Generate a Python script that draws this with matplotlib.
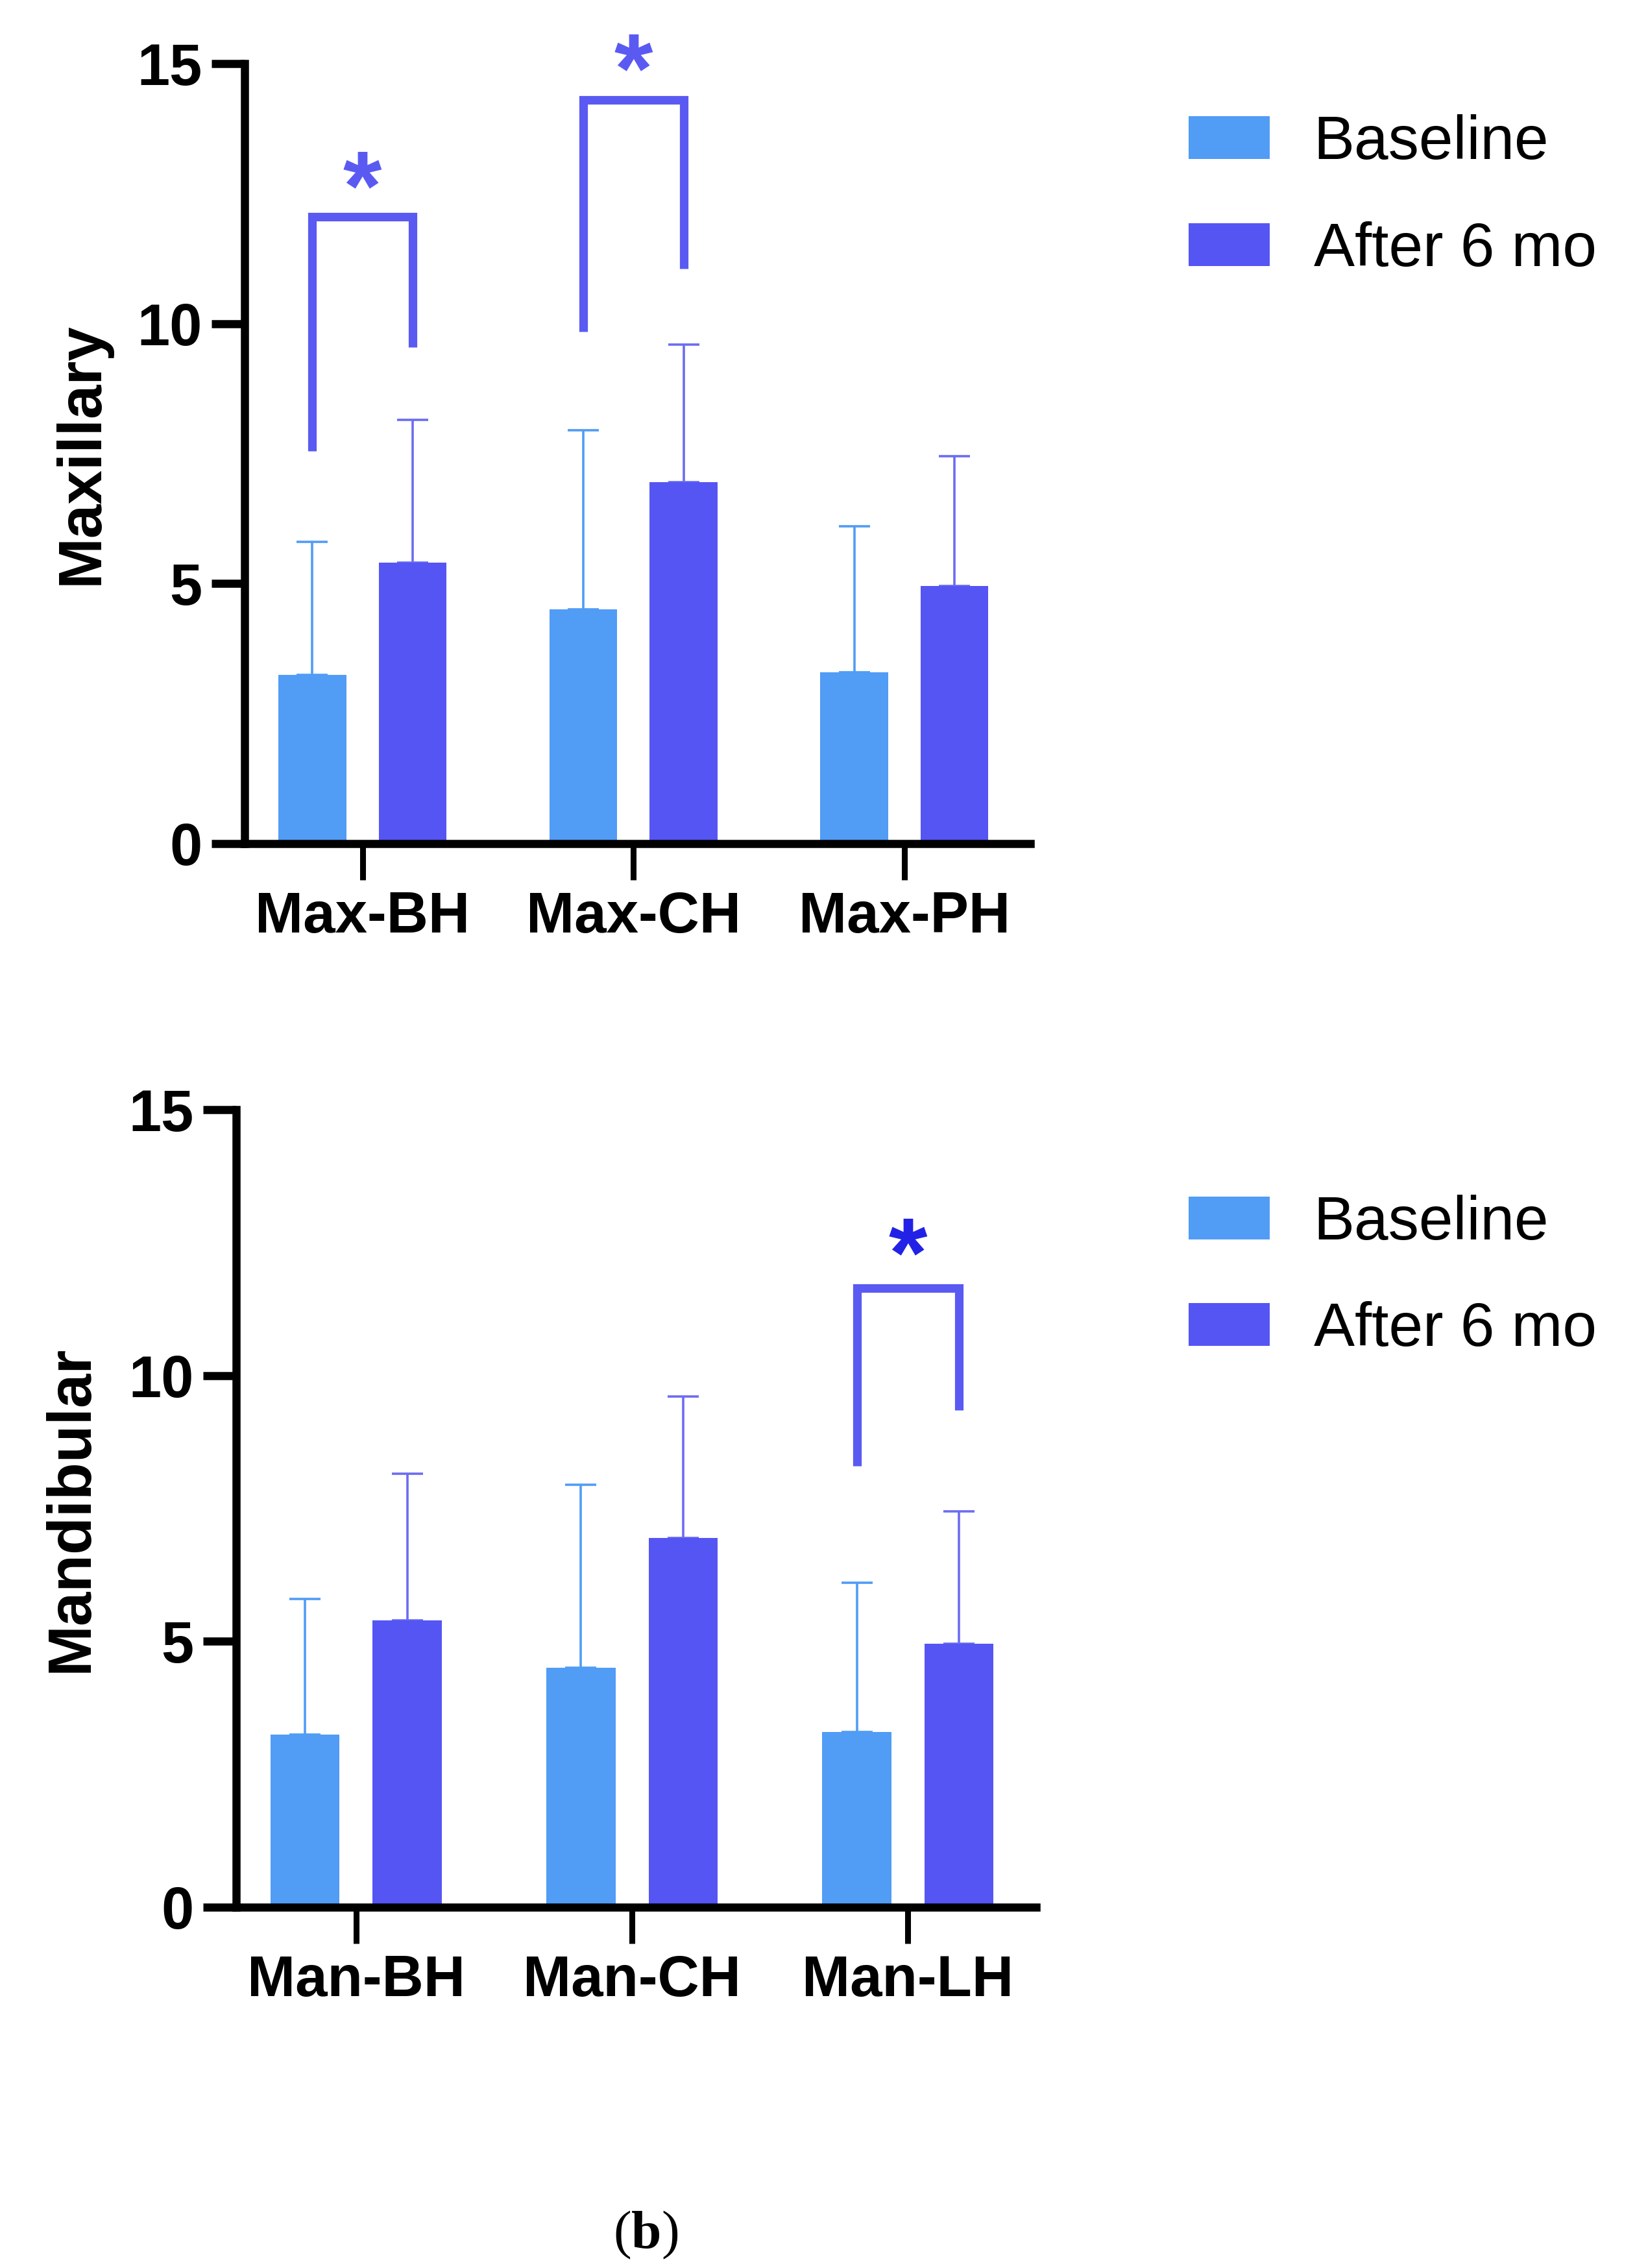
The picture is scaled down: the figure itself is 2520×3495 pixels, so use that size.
import numpy as np
import matplotlib
matplotlib.use('Agg')
import matplotlib.pyplot as plt
from matplotlib.patches import Patch

plt.rcParams['font.family'] = ['Liberation Sans', 'DejaVu Sans']
plt.rcParams['mathtext.fontset'] = 'custom'
plt.rcParams['mathtext.rm'] = 'Liberation Serif'
plt.rcParams['mathtext.bf'] = 'Liberation Serif:bold'

# data (mean and top of the SD whisker)
max_labels = ['Max-BH', 'Max-CH', 'Max-PH']
max_baseline = [3.25, 4.5, 3.3]
max_baseline_top = [5.8, 7.95, 6.1]
max_after = [5.4, 6.95, 4.95]
max_after_top = [8.15, 9.6, 7.45]

man_labels = ['Man-BH', 'Man-CH', 'Man-LH']
man_baseline = [3.25, 4.5, 3.3]
man_baseline_top = [5.8, 7.95, 6.1]
man_after = [5.4, 6.95, 4.95]
man_after_top = [8.15, 9.6, 7.45]

# significance brackets: category, left leg bottom, right leg bottom, bracket top, star
max_brackets = [(0, 7.55, 9.55, 12.05, 12.9), (1, 9.85, 11.05, 14.3, 15.15)]
man_brackets = [(2, 8.3, 9.35, 11.65, 12.55)]

series_names = ['Baseline', 'After 6 mo']
c_base = '#519cf5'
c_after = '#5555f4'
c_bracket = '#5a5af2'

W = 0.25
OFF = 0.185
STAR = 110


def draw_panel(ax, labels, base, base_top, after, after_top, brackets, star_color, ylabel):
    x = np.arange(len(labels))
    base = np.array(base)
    after = np.array(after)
    ax.bar(x - OFF, base, W, color=c_base, zorder=2)
    ax.bar(x + OFF, after, W, color=c_after, zorder=2)
    ax.errorbar(x - OFF, base, yerr=[np.zeros(3), np.array(base_top) - base], fmt='none',
                ecolor=c_base, elinewidth=2.6, capsize=17, capthick=2.6, zorder=1)
    ax.errorbar(x + OFF, after, yerr=[np.zeros(3), np.array(after_top) - after], fmt='none',
                ecolor='#6c6cf2', elinewidth=2.6, capsize=17, capthick=2.6, zorder=1)

    for cat, yl, yr, ytop, ystar in brackets:
        ax.plot([cat - OFF, cat - OFF, cat + OFF, cat + OFF], [yl, ytop, ytop, yr],
                color=c_bracket, lw=9.5, solid_joinstyle='miter', solid_capstyle='butt',
                clip_on=False)
        ax.annotate('*', (cat, ystar), xytext=(0, -0.47 * STAR), textcoords='offset points',
                    ha='center', va='baseline', fontsize=STAR, fontweight='bold',
                    color=star_color, annotation_clip=False)

    ax.set_xlim(-0.435, 2.465)
    ax.set_ylim(0, 15)
    ax.set_yticks([0, 5, 10, 15])
    ax.set_xticks(x)
    ax.set_xticklabels(labels)
    for s in ['top', 'right']:
        ax.spines[s].set_visible(False)
    for s in ['left', 'bottom']:
        ax.spines[s].set_linewidth(9)
    ax.tick_params(axis='y', length=37, width=9, pad=10, labelsize=65)
    ax.tick_params(axis='x', length=40, width=6.5, pad=12, labelsize=64)
    for t in ax.get_xticklabels() + ax.get_yticklabels():
        t.set_fontweight('bold')
    ax.set_ylabel(ylabel, fontsize=68, fontweight='bold')
    ax.yaxis.set_label_coords(-0.17, 0.5)


fig = plt.figure(figsize=(25.2, 34.95), dpi=100)
ax1 = fig.add_axes([0.1496, 0.628, 0.4806, 0.344])
ax2 = fig.add_axes([0.1444, 0.1591, 0.4893, 0.3516])

draw_panel(ax1, max_labels, max_baseline, max_baseline_top, max_after, max_after_top,
           max_brackets, c_bracket, 'Maxillary')
draw_panel(ax2, man_labels, man_baseline, man_baseline_top, man_after, man_after_top,
           man_brackets, '#2222e6', 'Mandibular')

handles = [Patch(facecolor=c_base, edgecolor='none'), Patch(facecolor=c_after, edgecolor='none')]
for ycen in [0.9133, 0.437]:
    fig.legend(handles, series_names, loc='center left', bbox_to_anchor=(0.7082, ycen),
               bbox_transform=fig.transFigure, frameon=False, fontsize=68, borderpad=0,
               handlelength=1.32, handleheight=0.7, handletextpad=0.72, labelspacing=0.8)

fig.text(0.395, 0.0145, r'$\mathrm{(}\mathbf{b}\mathrm{)}$', ha='center', va='center', fontsize=60)

fig.savefig('out.png', dpi=100, facecolor='white')
